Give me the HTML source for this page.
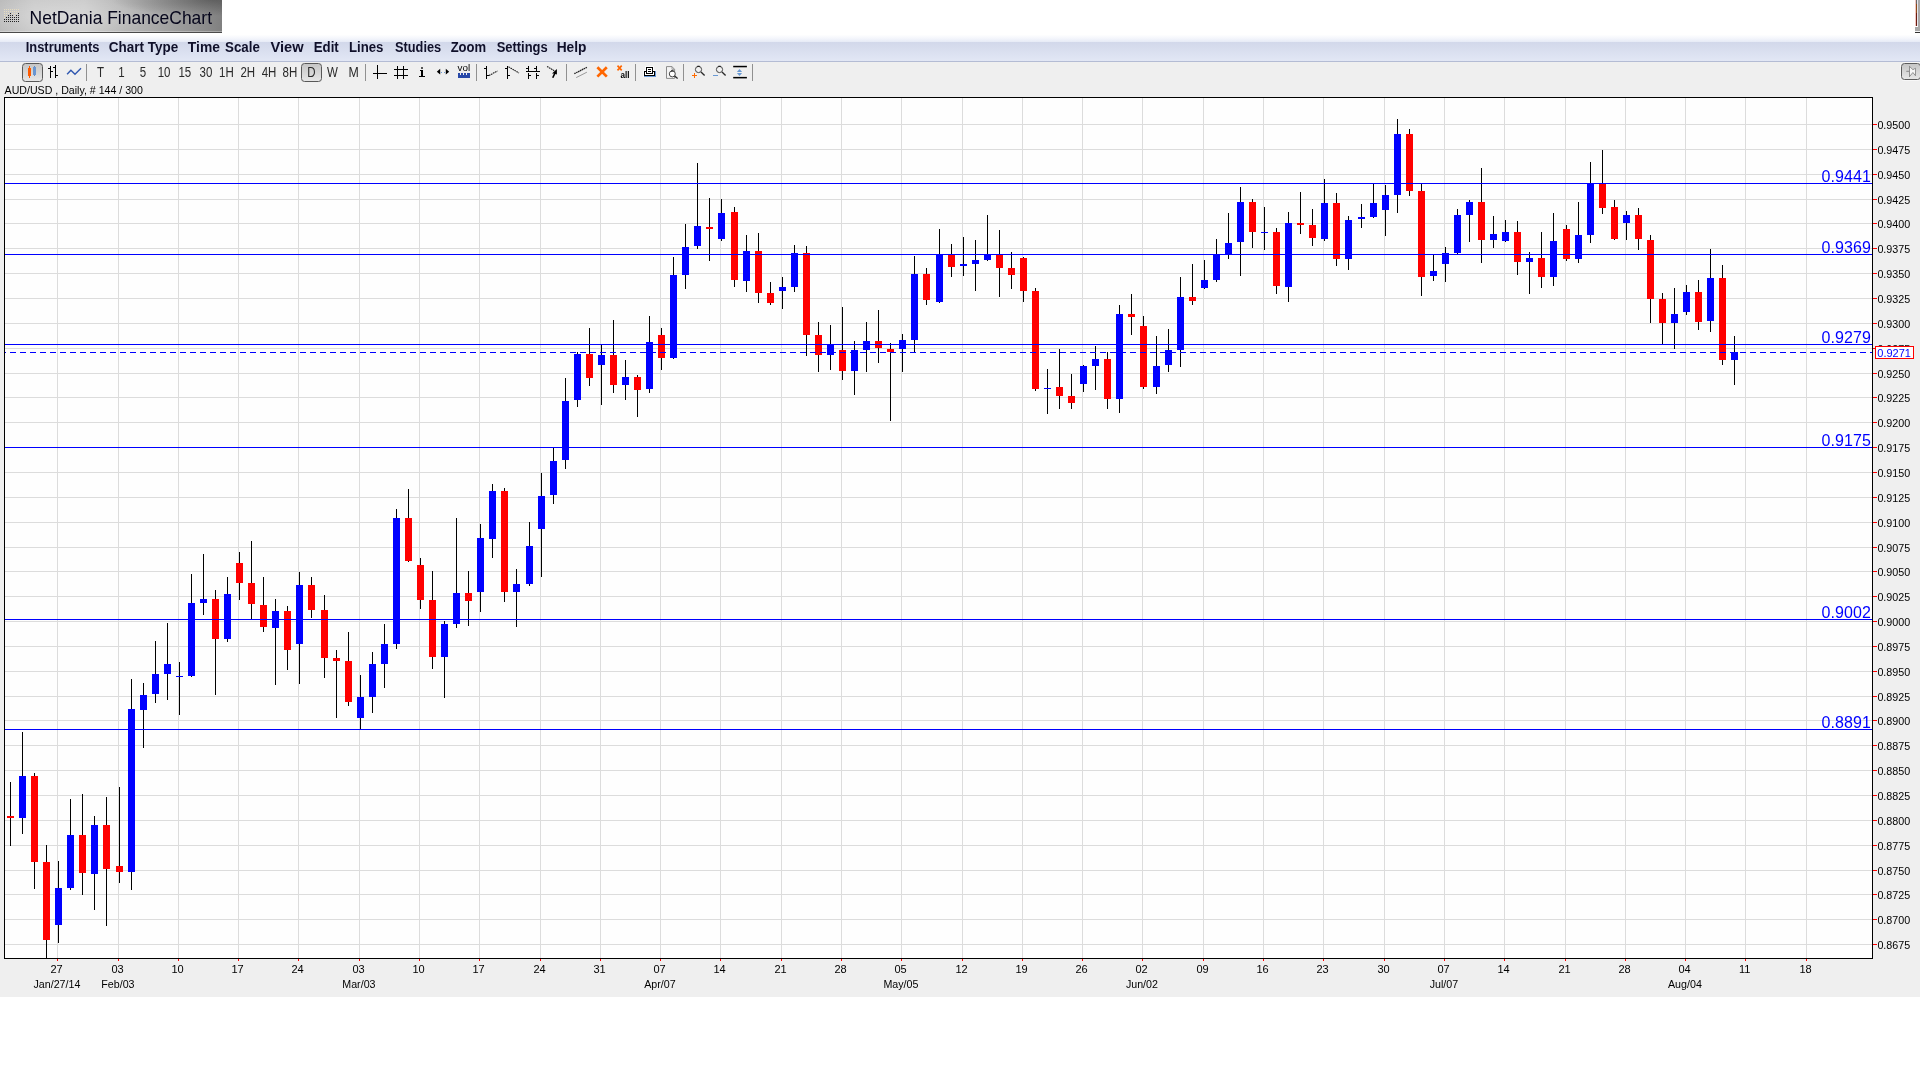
<!DOCTYPE html>
<html><head><meta charset="utf-8"><title>NetDania FinanceChart</title>
<style>
html,body{margin:0;padding:0}
body{width:1920px;height:1080px;position:relative;overflow:hidden;background:#fff;font-family:"Liberation Sans",sans-serif}
#tab{position:absolute;left:0;top:0;width:222px;height:32px;border-bottom:1px solid #4a4a4a;box-shadow:inset 0 -1px 0 rgba(255,255,255,.30);
 background:radial-gradient(ellipse 100px 16px at 95% 0%,rgba(30,30,30,.36) 0%,rgba(30,30,30,0) 100%),radial-gradient(ellipse 95px 20px at 28% 50%,rgba(255,255,255,.26) 0%,rgba(255,255,255,0) 100%),linear-gradient(90deg,#bcbcbc 0%,#cacaca 15%,#cbcbcb 38%,#b2b2b2 62%,#969696 85%,#808080 100%)}
#menubar{position:absolute;left:0;top:33px;width:1920px;height:28px;border-bottom:1px solid #b4bcd4;
 background:linear-gradient(180deg,#ffffff 0%,#ffffff 6%,#f5f7fc 18%,#e7ebf6 31.5%,#d2d8ea 32.5%,#e2e7f5 100%)}
#gray{position:absolute;left:0;top:62px;width:1920px;height:935px;background:#efefef}
.btn{position:absolute;box-sizing:border-box;border:1px solid #585858;border-radius:3.5px;background:linear-gradient(180deg,#c6c6c6,#e6e6e6)}
</style></head><body>
<div id="tab"></div>
<div id="menubar"></div>
<div id="gray"></div>
<div class="btn" style="left:22px;top:63px;width:21px;height:19px"></div>
<div class="btn" style="left:301px;top:63px;width:21px;height:19px"></div>
<div class="btn" style="left:1901px;top:63px;width:19.5px;height:17px;border-color:#5c5c5c;box-shadow:0 0 0 1px rgba(255,255,255,.55)"></div>
<svg width="1920" height="1080" viewBox="0 0 1920 1080" style="position:absolute;left:0;top:0;will-change:transform" font-family="Liberation Sans, sans-serif">
<rect x="4" y="97" width="1869" height="862" fill="#fefefe"/>
<g shape-rendering="crispEdges">
<path d="M57 98h1v860h-1zM118 98h1v860h-1zM178 98h1v860h-1zM238 98h1v860h-1zM298 98h1v860h-1zM359 98h1v860h-1zM419 98h1v860h-1zM479 98h1v860h-1zM540 98h1v860h-1zM600 98h1v860h-1zM660 98h1v860h-1zM720 98h1v860h-1zM781 98h1v860h-1zM841 98h1v860h-1zM901 98h1v860h-1zM962 98h1v860h-1zM1022 98h1v860h-1zM1082 98h1v860h-1zM1142 98h1v860h-1zM1203 98h1v860h-1zM1263 98h1v860h-1zM1323 98h1v860h-1zM1384 98h1v860h-1zM1444 98h1v860h-1zM1504 98h1v860h-1zM1565 98h1v860h-1zM1625 98h1v860h-1zM1685 98h1v860h-1zM1745 98h1v860h-1zM1806 98h1v860h-1zM5 124h1867v1h-1867zM5 149h1867v1h-1867zM5 174h1867v1h-1867zM5 199h1867v1h-1867zM5 223h1867v1h-1867zM5 248h1867v1h-1867zM5 273h1867v1h-1867zM5 298h1867v1h-1867zM5 323h1867v1h-1867zM5 348h1867v1h-1867zM5 373h1867v1h-1867zM5 397h1867v1h-1867zM5 422h1867v1h-1867zM5 447h1867v1h-1867zM5 472h1867v1h-1867zM5 497h1867v1h-1867zM5 522h1867v1h-1867zM5 547h1867v1h-1867zM5 571h1867v1h-1867zM5 596h1867v1h-1867zM5 621h1867v1h-1867zM5 646h1867v1h-1867zM5 671h1867v1h-1867zM5 696h1867v1h-1867zM5 720h1867v1h-1867zM5 745h1867v1h-1867zM5 770h1867v1h-1867zM5 795h1867v1h-1867zM5 820h1867v1h-1867zM5 845h1867v1h-1867zM5 870h1867v1h-1867zM5 894h1867v1h-1867zM5 919h1867v1h-1867zM5 944h1867v1h-1867z" fill="#dcdcdc"/>
<path d="M10 782h1v64h-1zM22 732h1v102h-1zM34 773h1v116h-1zM46 845h1v113h-1zM58 861h1v82h-1zM70 799h1v91h-1zM82 794h1v101h-1zM94 816h1v94h-1zM106 797h1v129h-1zM119 787h1v96h-1zM131 679h1v211h-1zM143 683h1v65h-1zM155 641h1v62h-1zM167 623h1v77h-1zM179 662h1v53h-1zM191 574h1v103h-1zM203 554h1v61h-1zM215 590h1v105h-1zM227 577h1v65h-1zM239 552h1v48h-1zM251 541h1v78h-1zM263 577h1v55h-1zM275 599h1v86h-1zM287 606h1v64h-1zM299 572h1v112h-1zM311 577h1v41h-1zM324 595h1v83h-1zM336 650h1v68h-1zM348 632h1v74h-1zM360 675h1v54h-1zM372 652h1v61h-1zM384 624h1v64h-1zM396 509h1v140h-1zM408 489h1v73h-1zM420 558h1v51h-1zM432 571h1v98h-1zM444 621h1v77h-1zM456 518h1v110h-1zM468 571h1v55h-1zM480 524h1v88h-1zM492 484h1v74h-1zM504 488h1v114h-1zM516 569h1v58h-1zM529 522h1v64h-1zM541 473h1v104h-1zM553 448h1v56h-1zM565 378h1v91h-1zM577 352h1v55h-1zM589 328h1v58h-1zM601 345h1v60h-1zM613 320h1v73h-1zM625 360h1v40h-1zM637 375h1v42h-1zM649 316h1v77h-1zM661 328h1v42h-1zM673 257h1v102h-1zM685 224h1v65h-1zM697 163h1v86h-1zM709 198h1v63h-1zM721 199h1v42h-1zM734 207h1v80h-1zM746 235h1v57h-1zM758 233h1v70h-1zM770 282h1v23h-1zM782 277h1v32h-1zM794 245h1v47h-1zM806 246h1v110h-1zM818 322h1v50h-1zM830 325h1v45h-1zM842 307h1v73h-1zM854 341h1v54h-1zM866 322h1v50h-1zM878 310h1v53h-1zM890 343h1v78h-1zM902 334h1v38h-1zM914 256h1v96h-1zM926 268h1v37h-1zM939 229h1v74h-1zM951 244h1v33h-1zM963 237h1v39h-1zM975 240h1v51h-1zM987 215h1v46h-1zM999 230h1v67h-1zM1011 252h1v37h-1zM1023 257h1v45h-1zM1035 288h1v103h-1zM1047 369h1v45h-1zM1059 349h1v60h-1zM1071 374h1v35h-1zM1083 365h1v27h-1zM1095 346h1v44h-1zM1107 352h1v57h-1zM1119 305h1v108h-1zM1131 294h1v41h-1zM1143 316h1v73h-1zM1156 336h1v58h-1zM1168 329h1v43h-1zM1180 277h1v90h-1zM1192 264h1v41h-1zM1204 260h1v29h-1zM1216 239h1v43h-1zM1228 213h1v46h-1zM1240 187h1v89h-1zM1252 199h1v49h-1zM1264 207h1v43h-1zM1276 228h1v66h-1zM1288 212h1v90h-1zM1300 192h1v42h-1zM1312 209h1v37h-1zM1324 179h1v62h-1zM1336 193h1v73h-1zM1348 216h1v54h-1zM1361 204h1v24h-1zM1373 184h1v34h-1zM1385 185h1v51h-1zM1397 119h1v94h-1zM1409 129h1v67h-1zM1421 184h1v112h-1zM1433 255h1v26h-1zM1445 247h1v35h-1zM1457 209h1v45h-1zM1469 200h1v42h-1zM1481 168h1v95h-1zM1493 216h1v32h-1zM1505 220h1v22h-1zM1517 221h1v54h-1zM1529 252h1v42h-1zM1541 232h1v56h-1zM1553 213h1v73h-1zM1566 225h1v36h-1zM1578 202h1v61h-1zM1590 162h1v81h-1zM1602 150h1v64h-1zM1614 200h1v40h-1zM1626 211h1v29h-1zM1638 208h1v42h-1zM1650 235h1v88h-1zM1662 293h1v51h-1zM1674 288h1v61h-1zM1686 285h1v30h-1zM1698 280h1v50h-1zM1710 249h1v83h-1zM1722 265h1v100h-1zM1734 336h1v49h-1z" fill="#000"/>
<path d="M7 816h7v2h-7zM31 776h7v86h-7zM43 862h7v78h-7zM79 835h7v38h-7zM103 825h7v44h-7zM116 866h7v6h-7zM212 599h7v40h-7zM236 563h7v20h-7zM248 583h7v21h-7zM260 605h7v22h-7zM284 611h7v39h-7zM308 585h7v25h-7zM321 610h7v48h-7zM333 658h7v3h-7zM345 661h7v41h-7zM405 518h7v43h-7zM417 565h7v35h-7zM429 600h7v57h-7zM465 593h7v8h-7zM501 491h7v101h-7zM586 354h7v24h-7zM610 355h7v30h-7zM634 377h7v13h-7zM658 335h7v23h-7zM706 227h7v2h-7zM731 212h7v68h-7zM755 251h7v42h-7zM767 293h7v10h-7zM803 253h7v82h-7zM815 335h7v20h-7zM839 350h7v21h-7zM875 341h7v7h-7zM887 349h7v3h-7zM923 274h7v26h-7zM948 255h7v12h-7zM996 255h7v13h-7zM1008 268h7v7h-7zM1020 258h7v33h-7zM1032 291h7v98h-7zM1056 387h7v9h-7zM1068 396h7v7h-7zM1104 359h7v40h-7zM1128 314h7v3h-7zM1140 326h7v61h-7zM1189 297h7v4h-7zM1249 202h7v30h-7zM1273 232h7v54h-7zM1297 223h7v2h-7zM1309 225h7v13h-7zM1333 203h7v56h-7zM1406 134h7v57h-7zM1418 191h7v86h-7zM1478 202h7v38h-7zM1514 232h7v30h-7zM1538 258h7v19h-7zM1563 229h7v30h-7zM1599 184h7v24h-7zM1611 207h7v32h-7zM1635 215h7v24h-7zM1647 240h7v59h-7zM1659 299h7v24h-7zM1695 292h7v30h-7zM1719 278h7v82h-7z" fill="#ff0000"/>
<path d="M19 776h7v42h-7zM55 888h7v37h-7zM67 835h7v53h-7zM91 825h7v49h-7zM128 709h7v163h-7zM140 695h7v15h-7zM152 674h7v20h-7zM164 664h7v10h-7zM176 676h7v1h-7zM188 603h7v73h-7zM200 599h7v4h-7zM224 594h7v45h-7zM272 611h7v17h-7zM296 585h7v59h-7zM357 697h7v21h-7zM369 664h7v33h-7zM381 644h7v20h-7zM393 518h7v126h-7zM441 624h7v33h-7zM453 593h7v31h-7zM477 538h7v54h-7zM489 491h7v48h-7zM513 584h7v8h-7zM526 546h7v38h-7zM538 496h7v33h-7zM550 461h7v34h-7zM562 401h7v59h-7zM574 354h7v46h-7zM598 355h7v10h-7zM622 377h7v8h-7zM646 342h7v47h-7zM670 275h7v83h-7zM682 247h7v28h-7zM694 226h7v20h-7zM718 213h7v26h-7zM743 251h7v30h-7zM779 287h7v4h-7zM791 253h7v34h-7zM827 344h7v11h-7zM851 350h7v21h-7zM863 341h7v9h-7zM899 340h7v9h-7zM911 274h7v66h-7zM936 254h7v48h-7zM960 264h7v2h-7zM972 260h7v4h-7zM984 255h7v5h-7zM1044 388h7v1h-7zM1080 366h7v18h-7zM1092 359h7v7h-7zM1116 314h7v85h-7zM1153 366h7v21h-7zM1165 350h7v15h-7zM1177 297h7v53h-7zM1201 280h7v8h-7zM1213 254h7v26h-7zM1225 243h7v12h-7zM1237 202h7v40h-7zM1261 232h7v1h-7zM1285 223h7v64h-7zM1321 203h7v36h-7zM1345 220h7v39h-7zM1358 217h7v2h-7zM1370 203h7v14h-7zM1382 195h7v15h-7zM1394 134h7v61h-7zM1430 271h7v5h-7zM1442 253h7v11h-7zM1454 215h7v38h-7zM1466 202h7v13h-7zM1490 234h7v6h-7zM1502 232h7v9h-7zM1526 258h7v4h-7zM1550 241h7v36h-7zM1575 235h7v24h-7zM1587 184h7v51h-7zM1623 215h7v8h-7zM1671 314h7v9h-7zM1683 292h7v20h-7zM1707 278h7v43h-7zM1731 352h7v8h-7z" fill="#0000ff"/>
<path d="M5 183h1867v1h-1867zM5 254h1867v1h-1867zM5 344h1867v1h-1867zM5 447h1867v1h-1867zM5 619h1867v1h-1867zM5 729h1867v1h-1867zM5 352h1v1h-1zM10 352h6v1h-6zM20 352h6v1h-6zM30 352h6v1h-6zM40 352h6v1h-6zM50 352h6v1h-6zM60 352h6v1h-6zM70 352h6v1h-6zM80 352h6v1h-6zM90 352h6v1h-6zM100 352h6v1h-6zM110 352h6v1h-6zM120 352h6v1h-6zM130 352h6v1h-6zM140 352h6v1h-6zM150 352h6v1h-6zM160 352h6v1h-6zM170 352h6v1h-6zM180 352h6v1h-6zM190 352h6v1h-6zM200 352h6v1h-6zM210 352h6v1h-6zM220 352h6v1h-6zM230 352h6v1h-6zM240 352h6v1h-6zM250 352h6v1h-6zM260 352h6v1h-6zM270 352h6v1h-6zM280 352h6v1h-6zM290 352h6v1h-6zM300 352h6v1h-6zM310 352h6v1h-6zM320 352h6v1h-6zM330 352h6v1h-6zM340 352h6v1h-6zM350 352h6v1h-6zM360 352h6v1h-6zM370 352h6v1h-6zM380 352h6v1h-6zM390 352h6v1h-6zM400 352h6v1h-6zM410 352h6v1h-6zM420 352h6v1h-6zM430 352h6v1h-6zM440 352h6v1h-6zM450 352h6v1h-6zM460 352h6v1h-6zM470 352h6v1h-6zM480 352h6v1h-6zM490 352h6v1h-6zM500 352h6v1h-6zM510 352h6v1h-6zM520 352h6v1h-6zM530 352h6v1h-6zM540 352h6v1h-6zM550 352h6v1h-6zM560 352h6v1h-6zM570 352h6v1h-6zM580 352h6v1h-6zM590 352h6v1h-6zM600 352h6v1h-6zM610 352h6v1h-6zM620 352h6v1h-6zM630 352h6v1h-6zM640 352h6v1h-6zM650 352h6v1h-6zM660 352h6v1h-6zM670 352h6v1h-6zM680 352h6v1h-6zM690 352h6v1h-6zM700 352h6v1h-6zM710 352h6v1h-6zM720 352h6v1h-6zM730 352h6v1h-6zM740 352h6v1h-6zM750 352h6v1h-6zM760 352h6v1h-6zM770 352h6v1h-6zM780 352h6v1h-6zM790 352h6v1h-6zM800 352h6v1h-6zM810 352h6v1h-6zM820 352h6v1h-6zM830 352h6v1h-6zM840 352h6v1h-6zM850 352h6v1h-6zM860 352h6v1h-6zM870 352h6v1h-6zM880 352h6v1h-6zM890 352h6v1h-6zM900 352h6v1h-6zM910 352h6v1h-6zM920 352h6v1h-6zM930 352h6v1h-6zM940 352h6v1h-6zM950 352h6v1h-6zM960 352h6v1h-6zM970 352h6v1h-6zM980 352h6v1h-6zM990 352h6v1h-6zM1000 352h6v1h-6zM1010 352h6v1h-6zM1020 352h6v1h-6zM1030 352h6v1h-6zM1040 352h6v1h-6zM1050 352h6v1h-6zM1060 352h6v1h-6zM1070 352h6v1h-6zM1080 352h6v1h-6zM1090 352h6v1h-6zM1100 352h6v1h-6zM1110 352h6v1h-6zM1120 352h6v1h-6zM1130 352h6v1h-6zM1140 352h6v1h-6zM1150 352h6v1h-6zM1160 352h6v1h-6zM1170 352h6v1h-6zM1180 352h6v1h-6zM1190 352h6v1h-6zM1200 352h6v1h-6zM1210 352h6v1h-6zM1220 352h6v1h-6zM1230 352h6v1h-6zM1240 352h6v1h-6zM1250 352h6v1h-6zM1260 352h6v1h-6zM1270 352h6v1h-6zM1280 352h6v1h-6zM1290 352h6v1h-6zM1300 352h6v1h-6zM1310 352h6v1h-6zM1320 352h6v1h-6zM1330 352h6v1h-6zM1340 352h6v1h-6zM1350 352h6v1h-6zM1360 352h6v1h-6zM1370 352h6v1h-6zM1380 352h6v1h-6zM1390 352h6v1h-6zM1400 352h6v1h-6zM1410 352h6v1h-6zM1420 352h6v1h-6zM1430 352h6v1h-6zM1440 352h6v1h-6zM1450 352h6v1h-6zM1460 352h6v1h-6zM1470 352h6v1h-6zM1480 352h6v1h-6zM1490 352h6v1h-6zM1500 352h6v1h-6zM1510 352h6v1h-6zM1520 352h6v1h-6zM1530 352h6v1h-6zM1540 352h6v1h-6zM1550 352h6v1h-6zM1560 352h6v1h-6zM1570 352h6v1h-6zM1580 352h6v1h-6zM1590 352h6v1h-6zM1600 352h6v1h-6zM1610 352h6v1h-6zM1620 352h6v1h-6zM1630 352h6v1h-6zM1640 352h6v1h-6zM1650 352h6v1h-6zM1660 352h6v1h-6zM1670 352h6v1h-6zM1680 352h6v1h-6zM1690 352h6v1h-6zM1700 352h6v1h-6zM1710 352h6v1h-6zM1720 352h6v1h-6zM1730 352h6v1h-6zM1740 352h6v1h-6zM1750 352h6v1h-6zM1760 352h6v1h-6zM1770 352h6v1h-6zM1780 352h6v1h-6zM1790 352h6v1h-6zM1800 352h6v1h-6zM1810 352h6v1h-6zM1820 352h6v1h-6zM1830 352h6v1h-6zM1840 352h6v1h-6zM1850 352h6v1h-6zM1860 352h6v1h-6zM1870 352h2v1h-2z" fill="#0000ff"/>
<path d="M4 97h1869v862h-1869z M5 98v860h1867v-860z" fill="#000" fill-rule="evenodd"/>
<path d="M1873 124h4v1h-4zM1873 149h4v1h-4zM1873 174h4v1h-4zM1873 199h4v1h-4zM1873 223h4v1h-4zM1873 248h4v1h-4zM1873 273h4v1h-4zM1873 298h4v1h-4zM1873 323h4v1h-4zM1873 348h4v1h-4zM1873 373h4v1h-4zM1873 397h4v1h-4zM1873 422h4v1h-4zM1873 447h4v1h-4zM1873 472h4v1h-4zM1873 497h4v1h-4zM1873 522h4v1h-4zM1873 547h4v1h-4zM1873 571h4v1h-4zM1873 596h4v1h-4zM1873 621h4v1h-4zM1873 646h4v1h-4zM1873 671h4v1h-4zM1873 696h4v1h-4zM1873 720h4v1h-4zM1873 745h4v1h-4zM1873 770h4v1h-4zM1873 795h4v1h-4zM1873 820h4v1h-4zM1873 845h4v1h-4zM1873 870h4v1h-4zM1873 894h4v1h-4zM1873 919h4v1h-4zM1873 944h4v1h-4zM57 959h1v2h-1zM118 959h1v2h-1zM178 959h1v2h-1zM238 959h1v2h-1zM298 959h1v2h-1zM359 959h1v2h-1zM419 959h1v2h-1zM479 959h1v2h-1zM540 959h1v2h-1zM600 959h1v2h-1zM660 959h1v2h-1zM720 959h1v2h-1zM781 959h1v2h-1zM841 959h1v2h-1zM901 959h1v2h-1zM962 959h1v2h-1zM1022 959h1v2h-1zM1082 959h1v2h-1zM1142 959h1v2h-1zM1203 959h1v2h-1zM1263 959h1v2h-1zM1323 959h1v2h-1zM1384 959h1v2h-1zM1444 959h1v2h-1zM1504 959h1v2h-1zM1565 959h1v2h-1zM1625 959h1v2h-1zM1685 959h1v2h-1zM1745 959h1v2h-1zM1806 959h1v2h-1z" fill="#ff0000"/>
</g>
<g font-size="11px" fill="#000">
<text x="1877.4" y="129" textLength="32.9" lengthAdjust="spacingAndGlyphs">0.9500</text>
<text x="1877.4" y="154" textLength="32.9" lengthAdjust="spacingAndGlyphs">0.9475</text>
<text x="1877.4" y="179" textLength="32.9" lengthAdjust="spacingAndGlyphs">0.9450</text>
<text x="1877.4" y="204" textLength="32.9" lengthAdjust="spacingAndGlyphs">0.9425</text>
<text x="1877.4" y="228" textLength="32.9" lengthAdjust="spacingAndGlyphs">0.9400</text>
<text x="1877.4" y="253" textLength="32.9" lengthAdjust="spacingAndGlyphs">0.9375</text>
<text x="1877.4" y="278" textLength="32.9" lengthAdjust="spacingAndGlyphs">0.9350</text>
<text x="1877.4" y="303" textLength="32.9" lengthAdjust="spacingAndGlyphs">0.9325</text>
<text x="1877.4" y="328" textLength="32.9" lengthAdjust="spacingAndGlyphs">0.9300</text>
<text x="1877.4" y="353" textLength="32.9" lengthAdjust="spacingAndGlyphs">0.9275</text>
<text x="1877.4" y="378" textLength="32.9" lengthAdjust="spacingAndGlyphs">0.9250</text>
<text x="1877.4" y="402" textLength="32.9" lengthAdjust="spacingAndGlyphs">0.9225</text>
<text x="1877.4" y="427" textLength="32.9" lengthAdjust="spacingAndGlyphs">0.9200</text>
<text x="1877.4" y="452" textLength="32.9" lengthAdjust="spacingAndGlyphs">0.9175</text>
<text x="1877.4" y="477" textLength="32.9" lengthAdjust="spacingAndGlyphs">0.9150</text>
<text x="1877.4" y="502" textLength="32.9" lengthAdjust="spacingAndGlyphs">0.9125</text>
<text x="1877.4" y="527" textLength="32.9" lengthAdjust="spacingAndGlyphs">0.9100</text>
<text x="1877.4" y="552" textLength="32.9" lengthAdjust="spacingAndGlyphs">0.9075</text>
<text x="1877.4" y="576" textLength="32.9" lengthAdjust="spacingAndGlyphs">0.9050</text>
<text x="1877.4" y="601" textLength="32.9" lengthAdjust="spacingAndGlyphs">0.9025</text>
<text x="1877.4" y="626" textLength="32.9" lengthAdjust="spacingAndGlyphs">0.9000</text>
<text x="1877.4" y="651" textLength="32.9" lengthAdjust="spacingAndGlyphs">0.8975</text>
<text x="1877.4" y="676" textLength="32.9" lengthAdjust="spacingAndGlyphs">0.8950</text>
<text x="1877.4" y="701" textLength="32.9" lengthAdjust="spacingAndGlyphs">0.8925</text>
<text x="1877.4" y="725" textLength="32.9" lengthAdjust="spacingAndGlyphs">0.8900</text>
<text x="1877.4" y="750" textLength="32.9" lengthAdjust="spacingAndGlyphs">0.8875</text>
<text x="1877.4" y="775" textLength="32.9" lengthAdjust="spacingAndGlyphs">0.8850</text>
<text x="1877.4" y="800" textLength="32.9" lengthAdjust="spacingAndGlyphs">0.8825</text>
<text x="1877.4" y="825" textLength="32.9" lengthAdjust="spacingAndGlyphs">0.8800</text>
<text x="1877.4" y="850" textLength="32.9" lengthAdjust="spacingAndGlyphs">0.8775</text>
<text x="1877.4" y="875" textLength="32.9" lengthAdjust="spacingAndGlyphs">0.8750</text>
<text x="1877.4" y="899" textLength="32.9" lengthAdjust="spacingAndGlyphs">0.8725</text>
<text x="1877.4" y="924" textLength="32.9" lengthAdjust="spacingAndGlyphs">0.8700</text>
<text x="1877.4" y="949" textLength="32.9" lengthAdjust="spacingAndGlyphs">0.8675</text>
</g>
<g font-size="11px" fill="#000" text-anchor="middle">
<text x="56.6" y="973">27</text>
<text transform="translate(56.9,988) scale(0.972,1)">Jan/27/14</text>
<text x="117.6" y="973">03</text>
<text transform="translate(117.9,988) scale(0.972,1)">Feb/03</text>
<text x="177.6" y="973">10</text>
<text x="237.6" y="973">17</text>
<text x="297.6" y="973">24</text>
<text x="358.6" y="973">03</text>
<text transform="translate(358.9,988) scale(0.972,1)">Mar/03</text>
<text x="418.6" y="973">10</text>
<text x="478.6" y="973">17</text>
<text x="539.6" y="973">24</text>
<text x="599.6" y="973">31</text>
<text x="659.6" y="973">07</text>
<text transform="translate(659.9,988) scale(0.972,1)">Apr/07</text>
<text x="719.6" y="973">14</text>
<text x="780.6" y="973">21</text>
<text x="840.6" y="973">28</text>
<text x="900.6" y="973">05</text>
<text transform="translate(900.9,988) scale(0.972,1)">May/05</text>
<text x="961.6" y="973">12</text>
<text x="1021.6" y="973">19</text>
<text x="1081.6" y="973">26</text>
<text x="1141.6" y="973">02</text>
<text transform="translate(1141.9,988) scale(0.972,1)">Jun/02</text>
<text x="1202.6" y="973">09</text>
<text x="1262.6" y="973">16</text>
<text x="1322.6" y="973">23</text>
<text x="1383.6" y="973">30</text>
<text x="1443.6" y="973">07</text>
<text transform="translate(1443.9,988) scale(0.972,1)">Jul/07</text>
<text x="1503.6" y="973">14</text>
<text x="1564.6" y="973">21</text>
<text x="1624.6" y="973">28</text>
<text x="1684.6" y="973">04</text>
<text transform="translate(1684.9,988) scale(0.972,1)">Aug/04</text>
<text x="1744.6" y="973">11</text>
<text x="1805.6" y="973">18</text>
</g>
<g font-size="16px" fill="#0000ff" text-anchor="end" letter-spacing="0.1">
<text x="1871" y="182">0.9441</text>
<text x="1871" y="253">0.9369</text>
<text x="1871" y="343">0.9279</text>
<text x="1871" y="446">0.9175</text>
<text x="1871" y="618">0.9002</text>
<text x="1871" y="728">0.8891</text>
</g>
<rect x="1875.5" y="346.5" width="38" height="12" fill="#fefefe" stroke="#ff0000" stroke-width="1" shape-rendering="crispEdges"/>
<text x="1877.3" y="357" font-size="11px" fill="#0000ff">0.9271</text>
<g shape-rendering="crispEdges">
<rect x="86" y="64" width="1" height="17" fill="#909090"/>
<rect x="365" y="64" width="1" height="17" fill="#909090"/>
<rect x="476" y="64" width="1" height="17" fill="#909090"/>
<rect x="566" y="64" width="1" height="17" fill="#909090"/>
<rect x="635" y="64" width="1" height="17" fill="#909090"/>
<rect x="683" y="64" width="1" height="17" fill="#909090"/>
<rect x="752" y="64" width="1" height="17" fill="#909090"/>
<rect x="29" y="66" width="1" height="12" fill="#ff5a00"/>
<rect x="28" y="68" width="3" height="8" fill="#ff5a00"/>
<rect x="34" y="66" width="1" height="10" fill="#5a86c8"/>
<rect x="33" y="67" width="3" height="8" fill="#6a96d0"/>
<rect x="50" y="66" width="1" height="12" fill="#000"/>
<rect x="48" y="68" width="2" height="1" fill="#000"/>
<rect x="51" y="71" width="2" height="1" fill="#000"/>
<rect x="55" y="65" width="1" height="13" fill="#000"/>
<rect x="53" y="67" width="2" height="1" fill="#000"/>
<rect x="56" y="75" width="2" height="1" fill="#000"/>
<rect x="377" y="65" width="1" height="14" fill="#000"/>
<rect x="373" y="73" width="14" height="1" fill="#000"/>
<rect x="397" y="66" width="1" height="13" fill="#000"/>
<rect x="403" y="66" width="1" height="13" fill="#000"/>
<rect x="394" y="69" width="14" height="1" fill="#000"/>
<rect x="394" y="75" width="14" height="1" fill="#000"/>
<rect x="421" y="67" width="2" height="2" fill="#555"/>
<rect x="420" y="70" width="3" height="1" fill="#000"/>
<rect x="421" y="70" width="2" height="7" fill="#000"/>
<rect x="419" y="76" width="6" height="1" fill="#000"/>
<rect x="441" y="72" width="1" height="1" fill="#70a0d8"/>
<rect x="444" y="72" width="1" height="1" fill="#70a0d8"/>
<rect x="458" y="75" width="12" height="3" fill="#2848a8"/>
<rect x="458" y="73" width="1.5" height="2" fill="#2848a8"/>
<rect x="461" y="73" width="1.5" height="2" fill="#2848a8"/>
<rect x="464" y="73" width="1.5" height="2" fill="#2848a8"/>
<rect x="467" y="73" width="1.5" height="2" fill="#2848a8"/>
<rect x="469" y="73" width="1" height="2" fill="#2848a8"/>
<rect x="486" y="66" width="1" height="13" fill="#000"/>
<rect x="484" y="68" width="2" height="1" fill="#000"/>
<rect x="487" y="75" width="2" height="1" fill="#000"/>
<rect x="507" y="66" width="1" height="13" fill="#000"/>
<rect x="505" y="68" width="2" height="1" fill="#000"/>
<rect x="508" y="75" width="2" height="1" fill="#000"/>
<rect x="528" y="66" width="1" height="6" fill="#000"/>
<rect x="528" y="73" width="1" height="6" fill="#000"/>
<rect x="536" y="66" width="1" height="6" fill="#000"/>
<rect x="536" y="73" width="1" height="6" fill="#000"/>
<rect x="526" y="71" width="14" height="1" fill="#000"/>
<rect x="526" y="68" width="2" height="1" fill="#000"/>
<rect x="534" y="68" width="2" height="1" fill="#000"/>
<rect x="529" y="75" width="2" height="1" fill="#000"/>
<rect x="537" y="75" width="2" height="1" fill="#000"/>
<rect x="645" y="66" width="9" height="5" fill="#fbfbfb"/>
<rect x="643" y="70" width="13" height="7" fill="#fbfbfb"/>
<rect x="655" y="71" width="1" height="6" fill="#6a9ad8"/>
<rect x="644" y="76" width="12" height="1" fill="#6a9ad8"/>
<rect x="644" y="71" width="11" height="5" fill="#000"/>
<rect x="645" y="72" width="9" height="3" fill="#fff"/>
<rect x="646" y="67" width="7" height="7" fill="#000"/>
<rect x="647" y="68" width="5" height="5" fill="#fff"/>
<rect x="648" y="69" width="3" height="1" fill="#000"/>
<rect x="648" y="71" width="3" height="1" fill="#000"/>
<rect x="692" y="75" width="5" height="1" fill="#ff6a00"/>
<rect x="694" y="73" width="1" height="5" fill="#ff6a00"/>
<rect x="713" y="75" width="5" height="1" fill="#6a9ad4"/>
</g>
<g fill="none">
<polyline points="67.1,74.3 70.9,70.3 75,74.3 81,68.2" stroke="#3058b0" stroke-width="1.4"/>
<path d="M436.8 71.7L440.2 68.8V74.6Z M449.2 71.7L445.8 68.8V74.6Z" fill="#000"/>
<path d="M489 75.5L497.5 70.9" stroke="#1a1a1a" stroke-width="1.1" stroke-dasharray="1.6 0.7"/>
<path d="M508.5 66.8L519 73" stroke="#1a1a1a" stroke-width="1.1" stroke-dasharray="1.6 0.7"/>
<path d="M547.1 66.5L554.2 70.7" stroke="#1a1a1a" stroke-width="1.1" stroke-dasharray="1.6 0.7"/>
<path d="M556.9 69L556.9 74.6L555.4 73.9L553.5 78L552 77.6L553.9 73.5L552 73.5Z" fill="#000"/>
<path d="M574.3 73.7L586.9 67.3" stroke="#222" stroke-width="1.3" stroke-dasharray="1.6 0.5"/>
<path d="M576.2 77.6L586.9 72.2" stroke="#999" stroke-width="1"/>
<path d="M597.4 67.2L606.8 76.6M606.8 67.2L597.4 76.6" stroke="#ff6600" stroke-width="2.7"/>
<path d="M617.5 65.6L621.7 70.4M621.7 65.6L617.5 70.4" stroke="#ff6600" stroke-width="1.6"/>
<path d="M666.5 66.6H672L674.6 69.4V78.4H666.5Z" fill="#f4f4f4" stroke="#8a8a8a" stroke-width="1"/>
<path d="M672 66.6V69.4H674.6" stroke="#8a8a8a" stroke-width="0.8"/>
<circle cx="672.3" cy="73.9" r="3" fill="#fff" stroke="#3c3c3c" stroke-width="0.95"/>
<path d="M674.6 76L677.6 78.5" stroke="#2a2a2a" stroke-width="1.35"/>
<path d="M671 70.9H673.6" stroke="#222" stroke-width="1.2"/>
<circle cx="698.5" cy="69.5" r="3.1" fill="#f2f2f2" stroke="#3c3c3c" stroke-width="0.95"/>
<path d="M701 71.9L704.6 75.4" stroke="#2a2a2a" stroke-width="1.35"/>
<path d="M697.2 66.4H699.8" stroke="#222" stroke-width="1.2"/>
<circle cx="719.5" cy="69.5" r="3.1" fill="#f2f2f2" stroke="#3c3c3c" stroke-width="0.95"/>
<path d="M722 71.9L725.6 75.4" stroke="#2a2a2a" stroke-width="1.35"/>
<path d="M718.2 66.4H720.8" stroke="#222" stroke-width="1.2"/>
<rect x="733.2" y="65.8" width="13.7" height="1.5" fill="#000"/>
<rect x="733.2" y="76.9" width="13.7" height="1.5" fill="#000"/>
<path d="M739.5 68.9L742.1 71.9H736.9Z M739.5 76.1L742.1 73.1H736.9Z" fill="#6a9ad4"/>
<path d="M1906.3 71.3H1909.5M1909.5 66.2V76.9" stroke="#888" stroke-width="1"/>
<path d="M1909.5 66.4L1912.9 69.7L1915.5 68.2V75.8L1912.9 72.5L1909.5 76.6Z" fill="#f6f6f6" stroke="#8a8a8a" stroke-width="0.9"/>
</g>
<text x="457.6" y="71.3" font-size="9.1px" fill="#000" textLength="12.6" lengthAdjust="spacingAndGlyphs">vol</text>
<text x="620.4" y="78" font-size="8.6px" font-weight="bold" fill="#000" textLength="9" lengthAdjust="spacingAndGlyphs">all</text>
<g shape-rendering="crispEdges">
<rect x="1915" y="0" width="1" height="26" fill="#f0c6c2"/>
<rect x="1916" y="0" width="1" height="4" fill="#666"/>
<rect x="1916" y="4" width="1" height="9" fill="#8a4a18"/>
<rect x="1916" y="13" width="1" height="13" fill="#6a1c10"/>
<rect x="1917" y="0" width="1" height="26" fill="#e6e6ee"/>
<rect x="1918" y="0" width="2" height="31" fill="#a9a9a9"/>
<rect x="1915" y="26.5" width="5" height="4.5" fill="#a9a9a9"/>
<rect x="1915" y="31" width="5" height="1" fill="#f4f4f4"/>
<rect x="1915" y="32" width="5" height="1" fill="#333"/>
</g>
<g shape-rendering="crispEdges">
<rect x="4" y="9" width="1" height="1" fill="#e6dcc0"/>
<rect x="6" y="9" width="1" height="1" fill="#e6dcc0"/>
<rect x="8" y="9" width="1" height="1" fill="#e6dcc0"/>
<rect x="10" y="9" width="1" height="1" fill="#e6dcc0"/>
<rect x="12" y="9" width="1" height="1" fill="#e6dcc0"/>
<rect x="14" y="9" width="1" height="1" fill="#e6dcc0"/>
<rect x="16" y="9" width="1" height="1" fill="#e6dcc0"/>
<rect x="18" y="9" width="1" height="1" fill="#e6dcc0"/>
<rect x="4" y="11" width="1" height="1" fill="#e6dcc0"/>
<rect x="6" y="11" width="1" height="1" fill="#e6dcc0"/>
<rect x="8" y="11" width="1" height="1" fill="#e6dcc0"/>
<rect x="10" y="11" width="1" height="1" fill="#e6dcc0"/>
<rect x="12" y="11" width="1" height="1" fill="#e6dcc0"/>
<rect x="14" y="11" width="1" height="1" fill="#e6dcc0"/>
<rect x="16" y="11" width="1" height="1" fill="#e6dcc0"/>
<rect x="18" y="11" width="1" height="1" fill="#e6dcc0"/>
<rect x="4" y="13" width="1" height="1" fill="#e6dcc0"/>
<rect x="6" y="13" width="1" height="1" fill="#e6dcc0"/>
<rect x="8" y="13" width="1" height="1" fill="#e6dcc0"/>
<rect x="10" y="13" width="1" height="1" fill="#222"/>
<rect x="12" y="13" width="1" height="1" fill="#e6dcc0"/>
<rect x="14" y="13" width="1" height="1" fill="#e6dcc0"/>
<rect x="16" y="13" width="1" height="1" fill="#e6dcc0"/>
<rect x="18" y="13" width="1" height="1" fill="#222"/>
<rect x="4" y="15" width="1" height="1" fill="#e6dcc0"/>
<rect x="6" y="15" width="1" height="1" fill="#e6dcc0"/>
<rect x="8" y="15" width="1" height="1" fill="#222"/>
<rect x="10" y="15" width="1" height="1" fill="#222"/>
<rect x="12" y="15" width="1" height="1" fill="#222"/>
<rect x="14" y="15" width="1" height="1" fill="#e6dcc0"/>
<rect x="16" y="15" width="1" height="1" fill="#222"/>
<rect x="18" y="15" width="1" height="1" fill="#222"/>
<rect x="4" y="17" width="1" height="1" fill="#e6dcc0"/>
<rect x="6" y="17" width="1" height="1" fill="#222"/>
<rect x="8" y="17" width="1" height="1" fill="#222"/>
<rect x="10" y="17" width="1" height="1" fill="#222"/>
<rect x="12" y="17" width="1" height="1" fill="#222"/>
<rect x="14" y="17" width="1" height="1" fill="#222"/>
<rect x="16" y="17" width="1" height="1" fill="#222"/>
<rect x="18" y="17" width="1" height="1" fill="#222"/>
<rect x="4" y="19" width="1" height="1" fill="#222"/>
<rect x="6" y="19" width="1" height="1" fill="#222"/>
<rect x="8" y="19" width="1" height="1" fill="#222"/>
<rect x="10" y="19" width="1" height="1" fill="#222"/>
<rect x="12" y="19" width="1" height="1" fill="#222"/>
<rect x="14" y="19" width="1" height="1" fill="#222"/>
<rect x="16" y="19" width="1" height="1" fill="#222"/>
<rect x="18" y="19" width="1" height="1" fill="#222"/>
<rect x="4" y="21" width="1" height="1" fill="#222"/>
<rect x="6" y="21" width="1" height="1" fill="#222"/>
<rect x="8" y="21" width="1" height="1" fill="#222"/>
<rect x="10" y="21" width="1" height="1" fill="#222"/>
<rect x="12" y="21" width="1" height="1" fill="#222"/>
<rect x="14" y="21" width="1" height="1" fill="#222"/>
<rect x="16" y="21" width="1" height="1" fill="#222"/>
<rect x="18" y="21" width="1" height="1" fill="#222"/>
</g>
<text x="29.6" y="23.8" font-size="18.2px" fill="#06061c" textLength="182.4" lengthAdjust="spacingAndGlyphs">NetDania FinanceChart</text>
<text x="4.6" y="93.8" font-size="10.9px" fill="#000" textLength="138.3" lengthAdjust="spacingAndGlyphs">AUD/USD , Daily, # 144 / 300</text>
<g font-size="14.5px" font-weight="bold" fill="#10102a">
<text x="25.75" y="52" textLength="73.70" lengthAdjust="spacingAndGlyphs">Instruments</text>
<text x="108.75" y="52" textLength="69.40" lengthAdjust="spacingAndGlyphs">Chart Type</text>
<text x="187.85" y="52" textLength="32.10" lengthAdjust="spacingAndGlyphs">Time</text>
<text x="225.05" y="52" textLength="34.80" lengthAdjust="spacingAndGlyphs">Scale</text>
<text x="270.55" y="52" textLength="33.10" lengthAdjust="spacingAndGlyphs">View</text>
<text x="313.75" y="52" textLength="25.00" lengthAdjust="spacingAndGlyphs">Edit</text>
<text x="348.95" y="52" textLength="34.50" lengthAdjust="spacingAndGlyphs">Lines</text>
<text x="395.05" y="52" textLength="46.10" lengthAdjust="spacingAndGlyphs">Studies</text>
<text x="450.65" y="52" textLength="35.50" lengthAdjust="spacingAndGlyphs">Zoom</text>
<text x="496.65" y="52" textLength="51.10" lengthAdjust="spacingAndGlyphs">Settings</text>
<text x="556.65" y="52" textLength="29.80" lengthAdjust="spacingAndGlyphs">Help</text>
</g>
<g font-size="14.2px" fill="#2a2a2a" text-anchor="middle">
<text transform="translate(100.55,76.7) scale(0.81,1)">T</text>
<text transform="translate(121.40,76.7) scale(0.81,1)">1</text>
<text transform="translate(143.00,76.7) scale(0.81,1)">5</text>
<text transform="translate(164.05,76.7) scale(0.81,1)">10</text>
<text transform="translate(184.85,76.7) scale(0.81,1)">15</text>
<text transform="translate(205.95,76.7) scale(0.81,1)">30</text>
<text transform="translate(226.45,76.7) scale(0.81,1)">1H</text>
<text transform="translate(247.80,76.7) scale(0.81,1)">2H</text>
<text transform="translate(269.05,76.7) scale(0.81,1)">4H</text>
<text transform="translate(289.88,76.7) scale(0.81,1)">8H</text>
<text transform="translate(311.35,76.7) scale(0.81,1)">D</text>
<text transform="translate(332.35,76.7) scale(0.81,1)">W</text>
<text transform="translate(353.55,76.7) scale(0.87,1)">M</text>
</g>
</svg>
</body></html>
